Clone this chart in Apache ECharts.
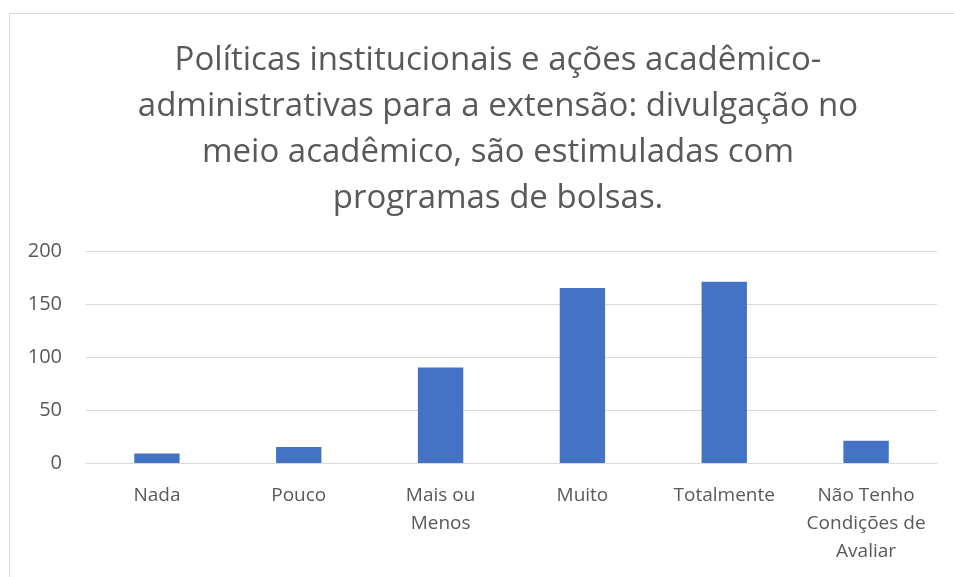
<!DOCTYPE html>
<html>
<head>
<meta charset="utf-8">
<script src="https://cdn.jsdelivr.net/npm/echarts@6/dist/echarts.min.js"></script>
<style>
  html, body { margin: 0; padding: 0; background: #fff; overflow: hidden; }
  #chart { width: 954px; height: 577px; }
</style>
</head>
<body>
<div id="chart"></div>
<script>
const categories = ['Nada', 'Pouco', 'Mais ou\nMenos', 'Muito', 'Totalmente', 'Não Tenho\nCondições de\nAvaliar'];
const respostas = [9, 15, 90, 165, 171, 21];
const yTicks = [0, 50, 100, 150, 200];

const FONT = '"Open Sans", sans-serif';

const chart = echarts.init(document.getElementById('chart'));
const option = {
  animation: false,
  title: {
    text: 'Políticas institucionais e ações acadêmico-\nadministrativas para a extensão: divulgação no\nmeio acadêmico, são estimuladas com\nprogramas de bolsas.',
    left: 493,
    top: 33,
    textAlign: 'center',
    textStyle: {
      color: '#595959',
      fontFamily: FONT,
      fontWeight: 'normal',
      fontSize: 33,
      lineHeight: 46
    }
  },
  graphic: [
    {
      type: 'rect',
      shape: { x: 9.5, y: 13.5, width: 960, height: 600 },
      style: { fill: 'none', stroke: '#d9d9d9', lineWidth: 1 },
      silent: true
    }
  ],
  grid: {
    left: 86,
    right: 17,
    top: 251,
    bottom: 114
  },
  xAxis: {
    type: 'category',
    data: categories,
    axisLine: { show: true, lineStyle: { color: '#d9d9d9', width: 1 } },
    axisTick: { show: false },
    axisLabel: {
      color: '#595959',
      fontFamily: FONT,
      fontSize: 19,
      lineHeight: 28,
      margin: 19,
      interval: 0
    }
  },
  yAxis: {
    type: 'value',
    min: yTicks[0],
    max: yTicks[yTicks.length - 1],
    interval: 50,
    axisLine: { show: false },
    axisTick: { show: false },
    splitLine: { lineStyle: { color: '#d9d9d9', width: 1 } },
    axisLabel: {
      color: '#595959',
      fontFamily: FONT,
      fontSize: 20,
      margin: 24
    }
  },
  series: [
    {
      type: 'bar',
      data: respostas,
      barCategoryGap: '68%',
      itemStyle: { color: '#4472c4' }
    }
  ]
};
chart.setOption(option);
</script>
</body>
</html>
